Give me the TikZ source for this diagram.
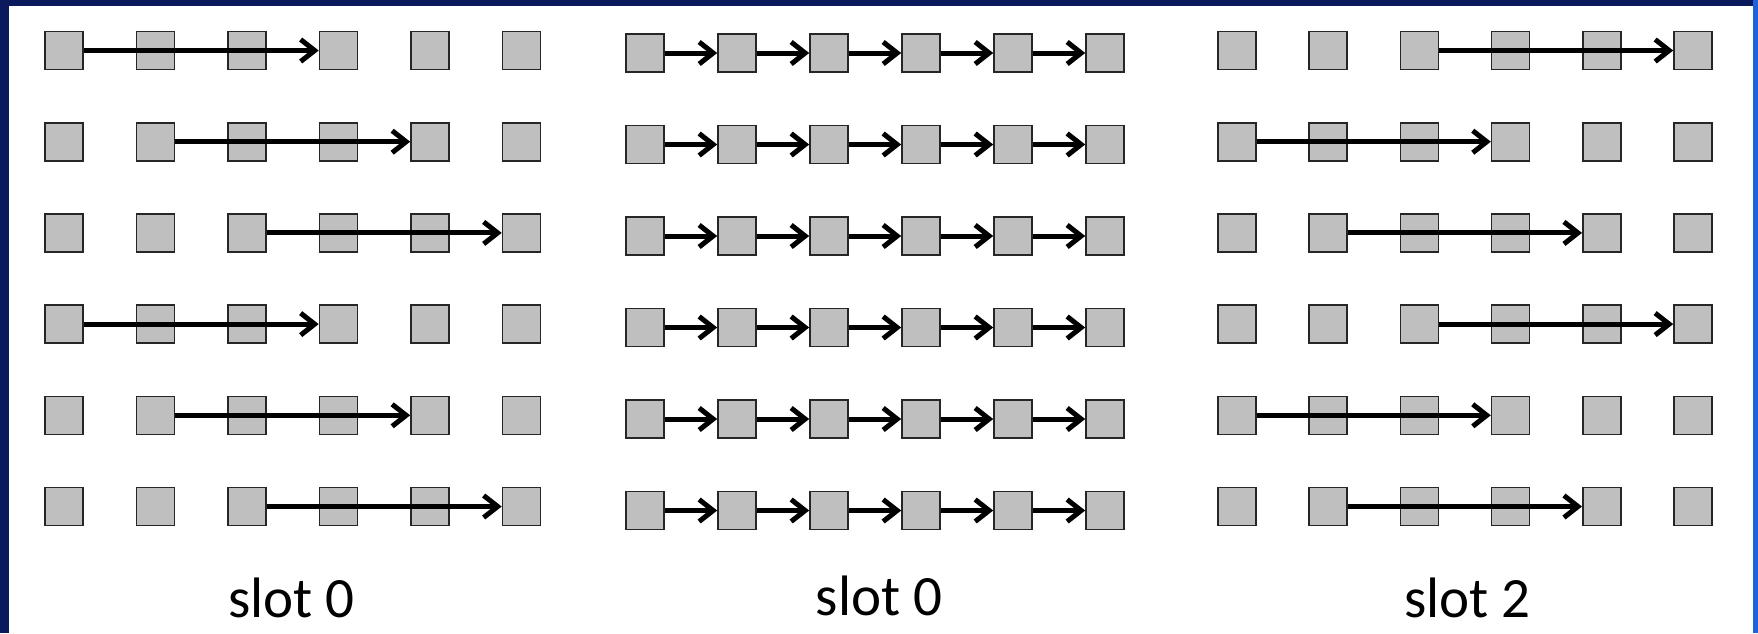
\documentclass[tikz,border=0pt]{standalone}
\usepackage{fontspec}
\setmainfont{Carlito}
\usetikzlibrary{arrows.meta}
\definecolor{cellfill}{HTML}{BFBFBF}
\definecolor{navy}{HTML}{0A1A5C}
\definecolor{edgeblue}{HTML}{1E64D8}

\begin{document}
\begin{tikzpicture}[x=1pt,y=-1pt,
  cell/.style={draw=black!85,line width=1.6pt,fill=cellfill,minimum size=38pt,inner sep=0pt},
  link/.style={line width=5pt,-{Straight Barb[length=14pt,width=22pt]}},
  lbl/.style={anchor=base,font=\fontsize{57}{62}\selectfont}]
  % frame
  \fill[navy] (0,0) rectangle (1758,633);
  \fill[edgeblue] (1753,0) rectangle (1758,633);
  \fill[white] (9,6) rectangle (1753,633);
  % cells
  \foreach \r in {1,...,6} {
    \foreach \c in {1,...,6} {
      \node[cell] (L-\r-\c) at ({64+91.5*(\c-1)},{50.5+91.2*(\r-1)}) {};
      \node[cell] (M-\r-\c) at ({645+92*(\c-1)},{53+91.5*(\r-1)}) {};
      \node[cell] (R-\r-\c) at ({1237+91.2*(\c-1)},{50.5+91.2*(\r-1)}) {};
    }
  }
  % links
  \foreach \r in {1,...,6} {
    \pgfmathtruncatemacro{\startL}{mod(\r-1,3)+1}
    \pgfmathtruncatemacro{\stopL}{\startL+3}
    \draw[link] (L-\r-\startL.east) -- (L-\r-\stopL.west);
    \pgfmathtruncatemacro{\startR}{mod(\r+1,3)+1}
    \pgfmathtruncatemacro{\stopR}{\startR+3}
    \draw[link] (R-\r-\startR.east) -- (R-\r-\stopR.west);
    \foreach \c [evaluate=\c as \n using int(\c+1)] in {1,...,5}
      \draw[link] (M-\r-\c.east) -- (M-\r-\n.west);
  }
  % labels
  \node[lbl] (slotL) at (291.5,617) {slot 0};
  \node[lbl] (slotM) at (879,615) {slot 0};
  \node[lbl] (slotR) at (1467.5,617) {slot 2};
\end{tikzpicture}
\end{document}
